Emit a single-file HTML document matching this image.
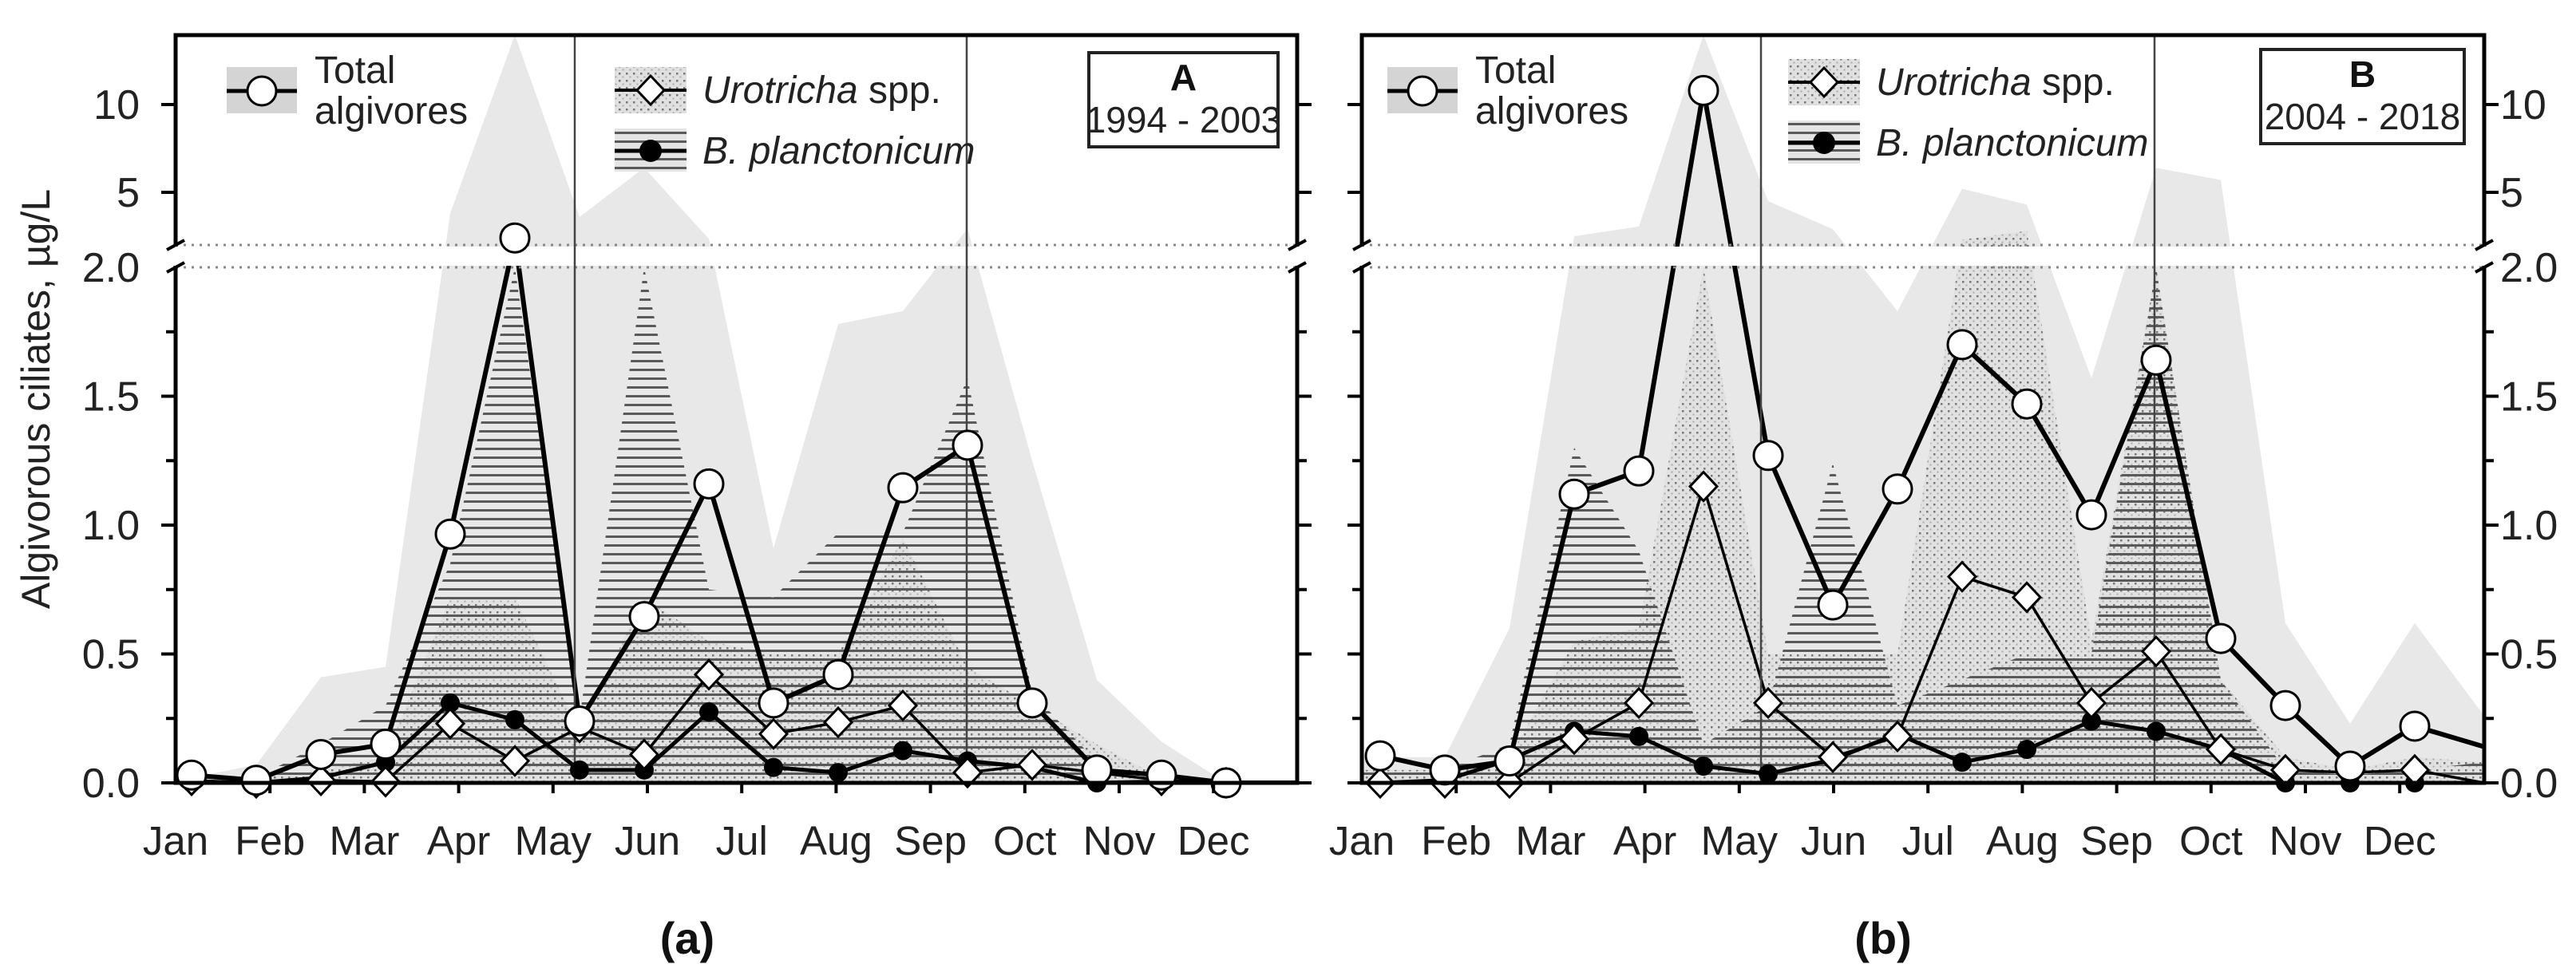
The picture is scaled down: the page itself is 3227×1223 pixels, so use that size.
<!DOCTYPE html>
<html><head><meta charset="utf-8"><style>
body{margin:0;background:#fff}
svg{display:block;font-family:"Liberation Sans",Arial,sans-serif}
</style></head><body>
<svg id="chart" width="3227" height="1223" viewBox="0 0 3227 1223" xmlns="http://www.w3.org/2000/svg">
<defs>
<pattern id="hatch" patternUnits="userSpaceOnUse" width="12" height="11"><rect x="0" y="0" width="12" height="3" fill="#5a5a5a"/></pattern>
<pattern id="stip" patternUnits="userSpaceOnUse" width="9" height="9"><rect x="1" y="1" width="2.5" height="2.5" fill="#777"/><rect x="5.5" y="5.5" width="2" height="2" fill="#aaa"/></pattern>
<clipPath id="clipA"><rect x="220" y="44" width="1405" height="937"/></clipPath>
<clipPath id="clipB"><rect x="1706" y="44" width="1406" height="937"/></clipPath>
</defs>
<g id="layer"></g>
</svg>
<script>
const months = ["Jan","Feb","Mar","Apr","May","Jun","Jul","Aug","Sep","Oct","Nov","Dec"];
const lowerTicks = [0, 0.5, 1.0, 1.5, 2.0];
const lowerTickLabels = ["0.0","0.5","1.0","1.5","2.0"];
const upperTicks = [5, 10];
const upperTickLabels = ["5","10"];

const aTotal = [0.03,0.01,0.11,0.15,0.965,2.4,0.24,0.645,1.16,0.31,0.42,1.145,1.31,0.31,0.05,0.03,0.0];
const aUro   = [0.01,0.0,0.01,0.005,0.23,0.085,0.215,0.11,0.42,0.19,0.235,0.30,0.04,0.07,0.04,0.01,0.0];
const aBpl   = [0.0,0.0,0.02,0.08,0.31,0.245,0.05,0.05,0.275,0.06,0.04,0.125,0.085,0.06,0.0,0.005,0.0];
const aGrey  = [0.02,0.07,0.41,0.45,3.8,14,3.6,6.4,2.35,0.91,1.78,1.83,2.95,1.25,0.40,0.16,0.0];
const aHatch = [0.01,0.02,0.15,0.3,0.85,2.0,0.25,2.0,0.75,0.72,0.97,0.97,1.57,0.35,0.08,0.02,0.0];
const aStip  = [0.0,0.02,0.05,0.1,0.72,0.72,0.2,0.72,0.55,0.5,0.5,0.95,0.45,0.3,0.15,0.02,0.0];
const aEnd   = [0.0,0.0,0.0,0.0,0.0,0.0];

const bTotal = [0.105,0.05,0.085,1.12,1.21,10.8,1.27,0.69,1.14,1.70,1.47,1.04,1.64,0.56,0.30,0.065,0.22];
const bUro   = [0.0,0.0,0.0,0.17,0.31,1.15,0.31,0.10,0.18,0.80,0.72,0.31,0.51,0.13,0.05,0.04,0.05];
const bBpl   = [0.0,0.01,0.09,0.2,0.18,0.065,0.035,0.09,0.19,0.08,0.13,0.24,0.2,0.13,0.0,0.0,0.0];
const bGrey  = [0.1,0.1,0.6,2.5,3.05,14,4.5,2.9,1.83,5.2,4.3,1.57,6.4,5.7,0.62,0.23,0.62];
const bHatch = [0.05,0.05,0.15,1.3,0.9,0.15,0.3,1.24,0.3,0.4,0.5,0.5,2.0,0.4,0.05,0.03,0.05];
const bStip  = [0.05,0.05,0.1,0.55,0.6,2.0,0.5,0.5,0.5,2.3,2.8,0.55,2.0,0.4,0.1,0.05,0.1];
const bEnd   = [0.14,0.0,0.0,0.26,0.08,0.08];

const NS = "http://www.w3.org/2000/svg";
const layer = document.getElementById('layer');
function el(tag, attrs, parent){ const e=document.createElementNS(NS,tag); for(const k in attrs) e.setAttribute(k,attrs[k]); (parent||layer).appendChild(e); return e; }

function yS(v){ if(v<=2) return 981 - v*323; return Math.max(44, 307 - (v-2)*22); }

function panel(P){
  const x0=P.x0, x1=P.x1;
  const xS = i => x0 + P.off + i*81;
  const mS = m => x0 + m*118.2;
  const g = el('g',{});
  
  
  const pg = el('g',{'clip-path':'url(#'+P.clip+')'}, g);
  function area(vals, endv, fill, nm){
    let pts=[[x0,yS(vals[0])]];
    vals.forEach((v,i)=>pts.push([xS(i),yS(v)]));
    pts.push([x1,yS(endv)]); pts.push([x1,981]); pts.push([x0,981]);
    const p=el('polygon',{points:pts.map(p=>p.join(',')).join(' '),fill:fill}, pg);
    
    
    return p;
  }
  area(P.grey, P.end[3], '#e8e8e8', 'total-range-area');
  const st = area(P.stip, P.end[5], '#dcdcdc', 'urotricha-range-area'); st.setAttribute('fill-opacity','0.6');
  area(P.stip, P.end[5], 'url(#stip)', 'urotricha-range-stipple');
  area(P.hatch, P.end[4], 'url(#hatch)', 'bplanctonicum-range-hatch');
  const gap=el('rect',{x:x0,y:309,width:x1-x0,height:24,fill:'#fff'}, g);
  
  
  [307,335].forEach(y=>{ const d=el('line',{x1:x0,x2:x1,y1:y,y2:y,stroke:'#888','stroke-width':3,'stroke-dasharray':'3,7'}, g);
    
     });
  [P.v1,P.v2].forEach(x=>{ const l=el('line',{x1:x,x2:x,y1:44,y2:981,stroke:'#444','stroke-width':2.5}, g);
    
     });
  function series(vals, endv, w, nm){
    let pts=vals.map((v,i)=>[xS(i),yS(v)]);
    pts.push([x1,yS(endv)]);
    const l=el('polyline',{points:pts.map(p=>p.join(',')).join(' '),fill:'none',stroke:'#000','stroke-width':w,'stroke-linejoin':'round'}, pg);
    
    
  }
  series(P.bpl, P.end[2], 5, 'bplanctonicum-line');
  series(P.uro, P.end[1], 3.5, 'urotricha-line');
  series(P.total, P.end[0], 6, 'total-algivores-line');
  P.bpl.forEach((v,i)=>{ const c=el('circle',{cx:xS(i),cy:yS(v),r:12,fill:'#000'}, g);
    
     });
  P.uro.forEach((v,i)=>{ const x=xS(i),y=yS(v);
    const d=el('polygon',{points:`${x},${y-18} ${x+17},${y} ${x},${y+18} ${x-17},${y}`,fill:'#fff',stroke:'#000','stroke-width':3}, g);
    
     });
  P.total.forEach((v,i)=>{ const c=el('circle',{cx:xS(i),cy:yS(v),r:18,fill:'#fff',stroke:'#000','stroke-width':3}, g);
    
     });
  const fr=el('path',{d:`M${x0},309 L${x0},44 L${x1},44 L${x1},309 M${x1},333 L${x1},981 L${x0},981 L${x0},333`,fill:'none',stroke:'#000','stroke-width':5}, g);
  
  
  [x0,x1].forEach(x=>{ [313,341].forEach(y=>{ const s=el('line',{x1:x-11,y1:y,x2:x+11,y2:y-12,stroke:'#000','stroke-width':4}, g);
    
     }); });
  [x0,x1].forEach((x,side)=>{
    const dir = side===0?-1:1;
    for(let k=0;k<8;k++){ const v=k*0.25; const major=k%2===0; const len=major?18:12;
      const t=el('line',{x1:x,x2:x+dir*len,y1:yS(v),y2:yS(v),stroke:'#000','stroke-width':4}, g);
      
       }
    upperTicks.forEach(v=>{ const t=el('line',{x1:x,x2:x+dir*18,y1:yS(v),y2:yS(v),stroke:'#000','stroke-width':4}, g);
      
       });
  });
  const lx = P.labelsRight ? x1+20 : x0-45;
  const anchor = P.labelsRight ? 'start' : 'end';
  lowerTicks.forEach((v,k)=>{ const t=el('text',{x:lx,y:yS(v)+18,'font-size':52,'text-anchor':anchor,fill:'#222'}, g); t.textContent=lowerTickLabels[k];
    
     });
  upperTicks.forEach((v,k)=>{ const t=el('text',{x:lx,y:yS(v)+18,'font-size':52,'text-anchor':anchor,fill:'#222'}, g); t.textContent=upperTickLabels[k];
    
     });
  for(let m=1;m<12;m++){ const t=el('line',{x1:mS(m),x2:mS(m),y1:981,y2:994,stroke:'#000','stroke-width':4}, g);
    
     }
  months.forEach((m,k)=>{ const t=el('text',{x:mS(k),y:1071,'font-size':51,'text-anchor':'middle',fill:'#222'}, g); t.textContent=m;
    
     });
  const L=P.leg;
  const lg=el('g',{}, g);
  
  
  const r1=el('rect',{x:L.tx,y:84,width:88,height:58,fill:'#d4d4d4'}, lg);
  
  
  el('line',{x1:L.tx,x2:L.tx+88,y1:114,y2:114,stroke:'#000','stroke-width':5}, lg);
  el('circle',{cx:L.tx+44,cy:114,r:18,fill:'#fff',stroke:'#000','stroke-width':3}, lg);
  const t1=el('text',{x:L.tx+110,y:104,'font-size':48,fill:'#222'}, lg); t1.textContent='Total';
  
  
  const t2=el('text',{x:L.tx+110,y:155,'font-size':48,fill:'#222'}, lg); t2.textContent='algivores';
  
  
  el('rect',{x:L.ux,y:L.uy,width:90,height:58,fill:'#e0e0e0'}, lg);
  el('rect',{x:L.ux,y:L.uy,width:90,height:58,fill:'url(#stip)'}, lg);
  el('line',{x1:L.ux,x2:L.ux+90,y1:L.uy+29,y2:L.uy+29,stroke:'#000','stroke-width':4}, lg);
  el('polygon',{points:`${L.ux+45},${L.uy+11} ${L.ux+62},${L.uy+29} ${L.ux+45},${L.uy+47} ${L.ux+28},${L.uy+29}`,fill:'#fff',stroke:'#000','stroke-width':3}, lg);
  const t3=el('text',{x:L.ux+110,y:L.uy+45,'font-size':48,fill:'#222'}, lg);
  t3.innerHTML='<tspan font-style="italic">Urotricha</tspan> spp.';
  
  
  const by=L.uy+77;
  el('rect',{x:L.ux,y:by,width:90,height:54,fill:'#e4e4e4'}, lg);
  el('rect',{x:L.ux,y:by,width:90,height:54,fill:'url(#hatch)'}, lg);
  el('line',{x1:L.ux,x2:L.ux+90,y1:by+28,y2:by+28,stroke:'#000','stroke-width':5}, lg);
  el('circle',{cx:L.ux+45,cy:by+28,r:14,fill:'#000'}, lg);
  const t4=el('text',{x:L.ux+110,y:by+44,'font-size':48,'font-style':'italic',fill:'#222'}, lg); t4.textContent='B. planctonicum';
  
  
  const B=P.box;
  const bx=el('rect',{x:B.x,y:B.y,width:B.w,height:118,fill:'#fff',stroke:'#222','stroke-width':4}, g);
  
  
  const b1=el('text',{x:B.x+B.w/2,y:B.y+47,'font-size':46,'font-weight':'bold','text-anchor':'middle',fill:'#111'}, g); b1.textContent=P.letter;
  
  
  const b2=el('text',{x:B.x+B.w/2,y:B.y+100,'font-size':46,'text-anchor':'middle',fill:'#222'}, g); b2.textContent=P.years;
  
  
  const cap=el('text',{x:P.capX,y:1195,'font-size':56,'font-weight':'bold','text-anchor':'middle',fill:'#111'}, g); cap.textContent=P.cap;
  
  
}

panel({name:'a',x0:220,x1:1625,off:20,clip:'clipA',total:aTotal,uro:aUro,bpl:aBpl,grey:aGrey,hatch:aHatch,stip:aStip,end:aEnd,
  v1:720,v2:1211,labelsRight:false,leg:{tx:284,ux:770,uy:84},box:{x:1364,y:66,w:237},letter:'A',years:'1994 - 2003',capX:861,cap:'(a)'});
panel({name:'b',x0:1706,x1:3112,off:23,clip:'clipB',total:bTotal,uro:bUro,bpl:bBpl,grey:bGrey,hatch:bHatch,stip:bStip,end:bEnd,
  v1:2206,v2:2699,labelsRight:true,leg:{tx:1738,ux:2240,uy:74},box:{x:2832,y:62,w:255},letter:'B',years:'2004 - 2018',capX:2359,cap:'(b)'});

const yt=el('text',{x:0,y:0,'font-size':50,'text-anchor':'middle',fill:'#222',transform:'translate(62,500) rotate(-90)'});
yt.textContent='Algivorous ciliates, µg/L';


</script>
</body></html>
